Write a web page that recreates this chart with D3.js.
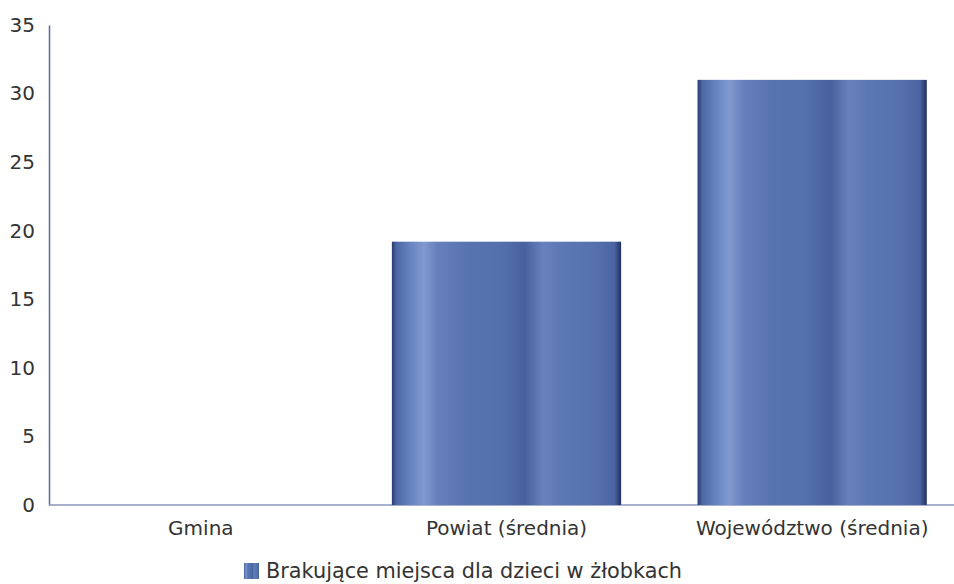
<!DOCTYPE html>
<html>
<head>
<meta charset="utf-8">
<script src="https://cdn.jsdelivr.net/npm/d3@7"></script>
<style>
  body { margin: 0; background: #fff; }
  text { font-family: "DejaVu Sans", Verdana, sans-serif; fill: #333; }
</style>
</head>
<body>
<script>
const categories = ["Gmina", "Powiat (średnia)", "Województwo (średnia)"];
const values = [0, 19.2, 31];
const yTicks = [0, 5, 10, 15, 20, 25, 30, 35];
const legendLabel = "Brakujące miejsca dla dzieci w żłobkach";

const w = 954, h = 584;
const svg = d3.select("body").append("svg").attr("width", w).attr("height", h);

const x = d3.scaleBand().domain(categories).range([48, 965]).paddingInner(0.25).paddingOuter(0.125);
const y = d3.scaleLinear().domain([0, 35]).range([505, 25]);

// bar gradient, soft vertical stripes
const grad = svg.append("defs").append("linearGradient").attr("id", "barGrad")
  .attr("x1", "0%").attr("x2", "100%").attr("y1", "0%").attr("y2", "0%");
[
  [0, "#2a3a70"], [2, "#4c67a4"], [8, "#6683bf"], [14, "#8199cf"], [20, "#6580bc"],
  [32, "#5874b0"], [48, "#5470ac"], [58, "#46619d"], [66, "#6882bd"], [74, "#5c78b4"],
  [88, "#5672ae"], [97, "#4a65a2"], [100, "#22305f"]
].forEach(s => grad.append("stop").attr("offset", s[0] + "%").attr("stop-color", s[1]));

// y axis
const yAxis = svg.append("g").attr("transform", "translate(49,0)")
  .call(d3.axisLeft(y).tickValues(yTicks).tickSize(0).tickPadding(14));
yAxis.attr("font-size", null).attr("font-family", null);
yAxis.select(".domain").attr("stroke", "#5a6a9c").attr("stroke-width", 1.5);
yAxis.selectAll("text").style("font-size", "20px").attr("fill", "#333");

// x axis
const xAxis = svg.append("g").attr("transform", "translate(0,505)")
  .call(d3.axisBottom(x).tickSize(0).tickPadding(16));
xAxis.attr("font-size", null).attr("font-family", null);
xAxis.select(".domain").attr("d", "M49,0H954").attr("stroke", "#8a97bd").attr("stroke-width", 1.5);
xAxis.selectAll("text").style("font-size", "20px").attr("fill", "#333");

// bars
svg.selectAll("rect.bar")
  .data(values)
  .enter()
  .append("rect")
  .attr("class", "bar")
  .attr("x", (d, i) => x(categories[i]))
  .attr("y", d => y(d))
  .attr("width", x.bandwidth())
  .attr("height", d => y(0) - y(d))
  .attr("fill", "url(#barGrad)");

// legend
const lg = svg.append("g").attr("transform", "translate(244,563)");
lg.append("rect").attr("width", 15).attr("height", 16).attr("fill", "url(#barGrad)");
lg.append("text").attr("x", 22).attr("y", 15).style("font-size", "20.8px").text(legendLabel);
</script>
</body>
</html>
